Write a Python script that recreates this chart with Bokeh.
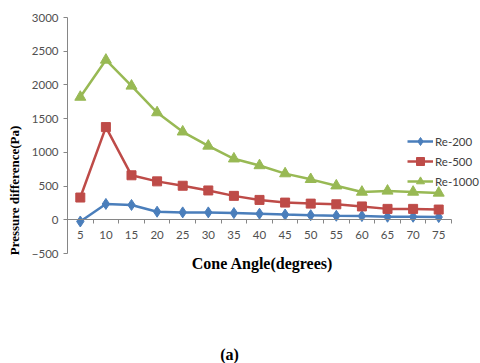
from bokeh.plotting import figure
from bokeh.models import FixedTicker, Legend, LegendItem, Label
from bokeh.embed import file_html
from bokeh.resources import INLINE

# Data
cone_angle = [5, 10, 15, 20, 25, 30, 35, 40, 45, 50, 55, 60, 65, 70, 75]
re_200 = [-25, 235, 220, 120, 110, 110, 100, 90, 78, 68, 60, 55, 45, 45, 40]
re_500 = [330, 1375, 660, 570, 505, 435, 355, 295, 255, 240, 230, 198, 162, 162, 152]
re_1000 = [1820, 2370, 1985, 1590, 1305, 1095, 905, 805, 685, 600, 505, 412, 428, 412, 398]
series_names = ["Re-200", "Re-500", "Re-1000"]
y_ticks = [-500, 0, 500, 1000, 1500, 2000, 2500, 3000]

colors = ["#4A7EBB", "#BE4B48", "#98B954"]
markers = ["diamond", "square", "triangle"]
sizes = [11, 9, 11]

# frame spans to the right and bottom edges so that legend and captions are not clipped
p = figure(width=480, height=363, output_backend="svg", toolbar_location=None,
           x_range=(2.5, 83.16), y_range=(-2131, 3000),
           min_border_left=67, min_border_right=0, min_border_top=17, min_border_bottom=0)
p.outline_line_color = None
p.xgrid.visible = False
p.ygrid.visible = False
p.background_fill_color = "white"
p.border_fill_color = "white"

tick_font = "Lato"
# y axis
p.yaxis.ticker = FixedTicker(ticks=y_ticks)
p.yaxis.bounds = (y_ticks[0], y_ticks[-1])
p.yaxis.axis_line_color = "#868686"
p.yaxis.major_tick_line_color = "#868686"
p.yaxis.major_tick_out = 4
p.yaxis.major_tick_in = 0
p.yaxis.minor_tick_line_color = None
p.yaxis.major_label_text_font = tick_font
p.yaxis.major_label_text_font_size = "11.5px"
p.yaxis.major_label_text_color = "#505050"
p.yaxis.major_label_standoff = 5
p.yaxis.axis_label = "Pressure difference(Pa)"
p.yaxis.axis_label_text_font = "Liberation Serif"
p.yaxis.axis_label_text_font_style = "bold"
p.yaxis.axis_label_text_font_size = "13px"
p.yaxis.axis_label_text_color = "black"
p.yaxis.axis_label_standoff = 7

# x axis crossing at y = 0
minor = [c - 2.5 for c in cone_angle] + [cone_angle[-1] + 2.5]
p.xaxis.ticker = FixedTicker(ticks=cone_angle, minor_ticks=minor)
p.xaxis.bounds = (minor[0], minor[-1])
p.xaxis.fixed_location = 0
p.xaxis.axis_line_color = "#868686"
p.xaxis.major_tick_line_color = None
p.xaxis.major_tick_out = 0
p.xaxis.major_tick_in = 0
p.xaxis.minor_tick_line_color = "#868686"
p.xaxis.minor_tick_out = 4
p.xaxis.minor_tick_in = 0
p.xaxis.major_label_text_font = tick_font
p.xaxis.major_label_text_font_size = "11.5px"
p.xaxis.major_label_text_color = "#505050"
p.xaxis.major_label_standoff = 7

items = []
for name, ys, c, m, s in zip(series_names, [re_200, re_500, re_1000], colors, markers, sizes):
    l = p.line(cone_angle, ys, line_color=c, line_width=2.5)
    sc = p.scatter(cone_angle, ys, marker=m, size=s, fill_color=c, line_color=c)
    items.append(LegendItem(label=name, renderers=[l, sc]))

legend = Legend(items=items, location=(340, 172), orientation="vertical",
                glyph_width=26, glyph_height=20, label_height=20, spacing=0,
                padding=0, margin=0, label_standoff=2,
                label_text_font=tick_font, label_text_font_size="11.5px",
                label_text_color="#404040",
                border_line_color=None, background_fill_alpha=0)
p.add_layout(legend, "center")

xtitle = Label(x=195, y=100, x_units="screen", y_units="screen", text="Cone Angle(degrees)",
               text_font="Liberation Serif", text_font_style="bold",
               text_font_size="16px", text_align="center", text_baseline="middle",
               text_color="black")
p.add_layout(xtitle)

cap = Label(x=162, y=9, x_units="screen", y_units="screen", text="(a)",
            text_font="Liberation Serif", text_font_style="bold",
            text_font_size="16px", text_align="center", text_baseline="middle",
            text_color="black")
p.add_layout(cap)

open("out.html", "w").write(file_html(p, INLINE))
